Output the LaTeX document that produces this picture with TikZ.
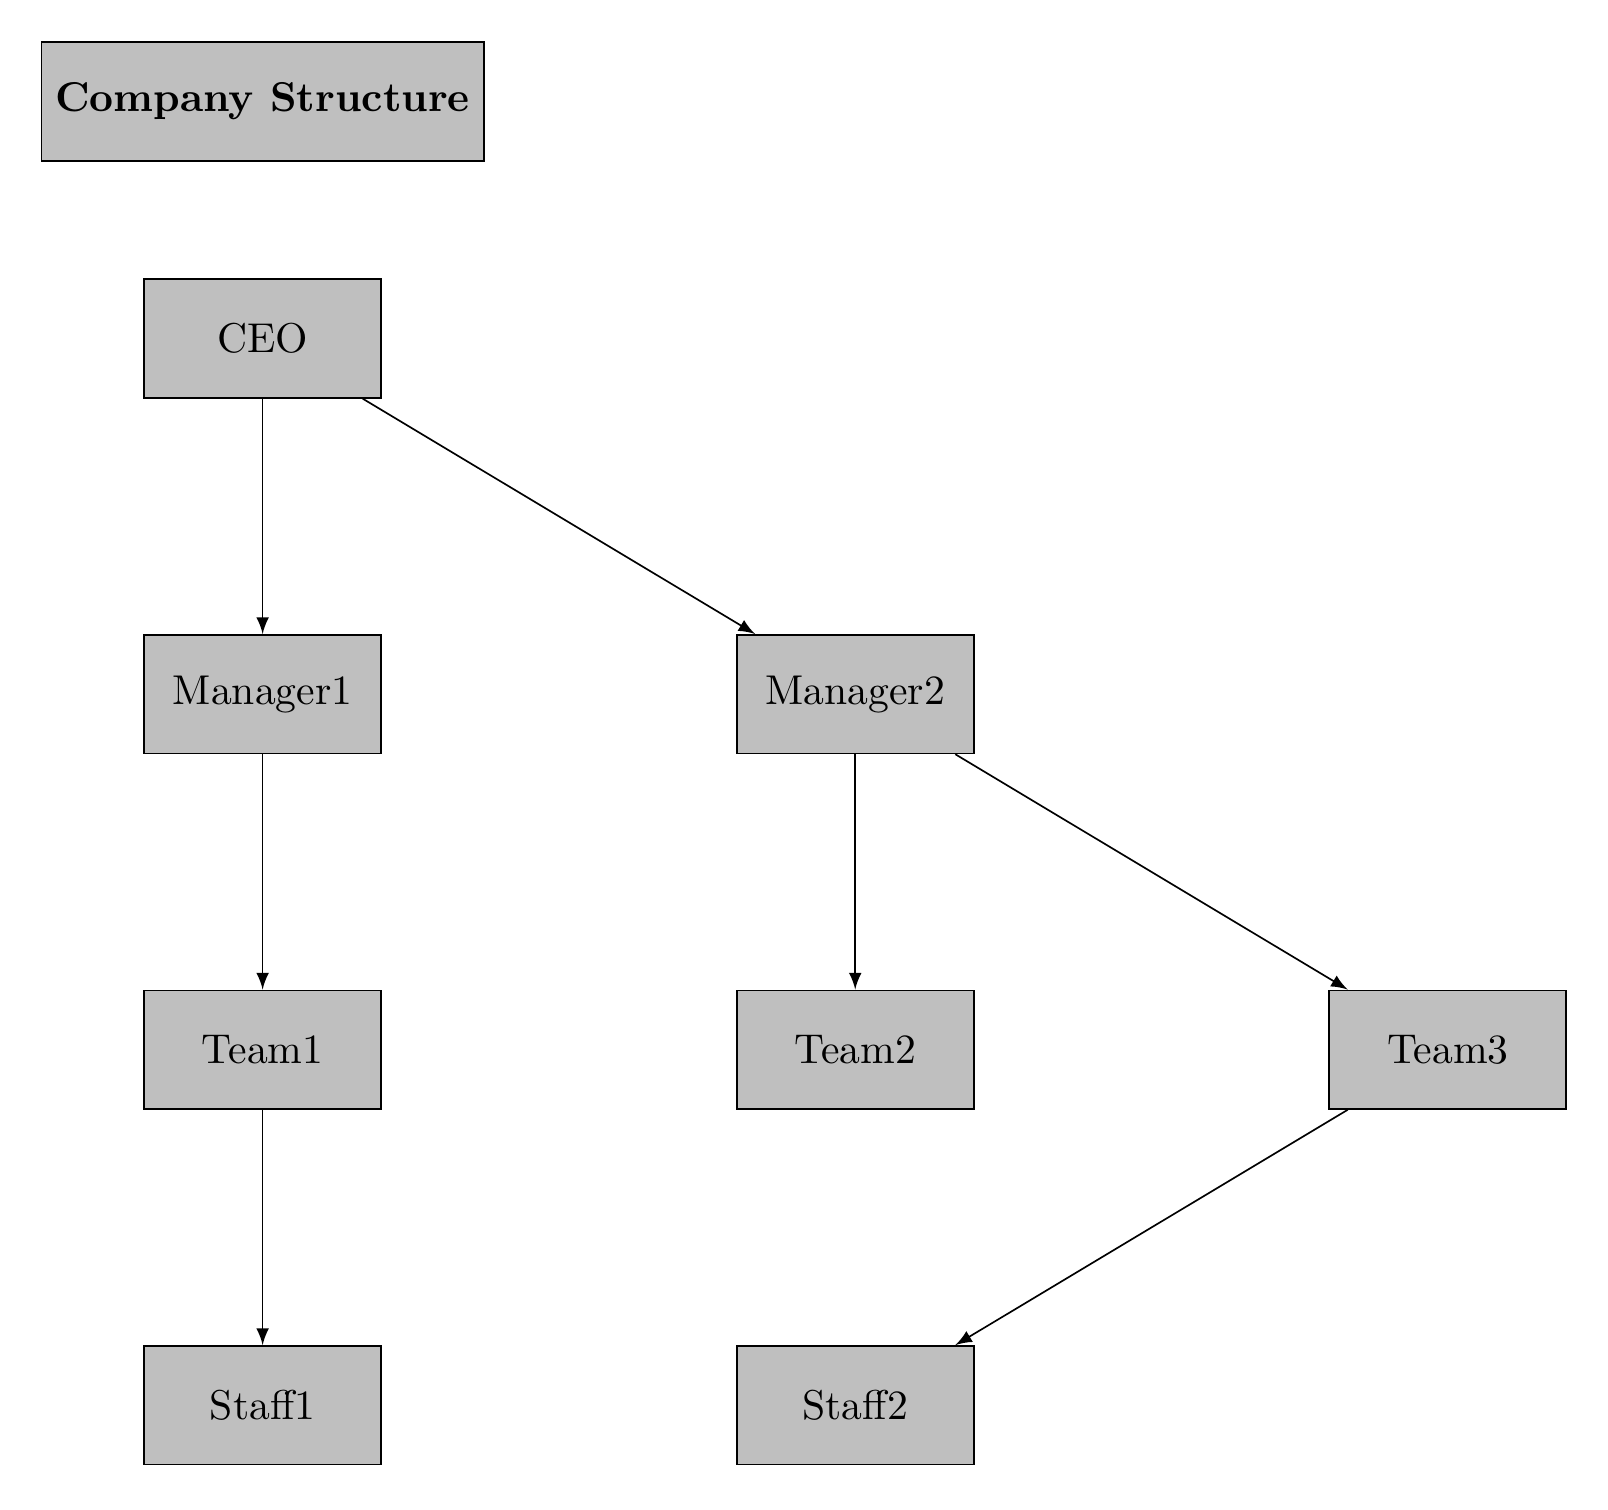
\documentclass[tikz,border=0pt]{standalone}
\usetikzlibrary{arrows}
\begin{document}
\begin{tikzpicture}[
  box/.style={draw, fill=gray!50, minimum width=2cm, minimum height=1cm},
  titlebox/.style={draw, fill=gray!50, minimum height=1cm, font=\bfseries},
  link/.style={-latex}
]
\useasboundingbox (-2.216,-9.878) rectangle (11.352,2.857);
\node[titlebox] (title) at (0,2) {Company Structure};
\node[box] (ceo) at (0,0) {CEO};
\node[box] (m1) at (0,-3) {Manager1};
\node[box] (m2) at (5,-3) {Manager2};
\node[box] (t1) at (0,-6) {Team1};
\node[box] (t2) at (5,-6) {Team2};
\node[box] (t3) at (10,-6) {Team3};
\node[box] (s1) at (0,-9) {Staff1};
\node[box] (s2) at (5,-9) {Staff2};
\draw[link] (ceo) -- (m1);
\draw[link] (ceo) -- (m2);
\draw[link] (m1) -- (t1);
\draw[link] (m2) -- (t2);
\draw[link] (m2) -- (t3);
\draw[link] (t1) -- (s1);
\draw[link] (t3) -- (s2);
\end{tikzpicture}
\end{document}
